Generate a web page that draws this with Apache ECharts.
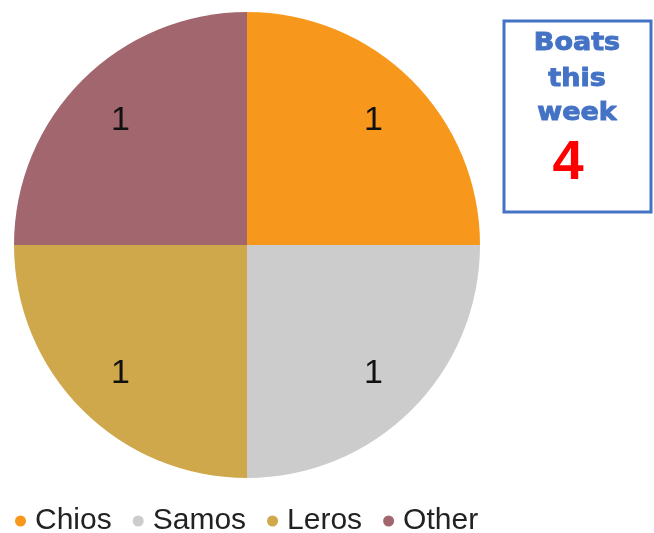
<!DOCTYPE html>
<html>
<head>
<meta charset="utf-8">
<script src="https://cdn.jsdelivr.net/npm/echarts@6/dist/echarts.min.js"></script>
<style>
  html, body { margin: 0; padding: 0; background: #fff; }
  #chart { width: 654px; height: 533px; }
</style>
</head>
<body>
<div id="chart"></div>
<script>
// data
const islands = ['Chios', 'Samos', 'Leros', 'Other']
const boats = [1, 1, 1, 1]
const colors = ['#F7981D', '#CCCCCC', '#CFA84C', '#A2666F']
const boxTitle = ['Boats', 'this', 'week']
const boxTotal = boats.reduce((a, b) => a + b, 0)

const chart = echarts.init(document.getElementById('chart'))

const pieData = islands.map((name, i) => ({
  name: name,
  value: boats[i],
  itemStyle: { color: colors[i] }
}))

const option = {
  animation: false,
  legend: {
    left: 10,
    top: 501,
    icon: 'circle',
    itemWidth: 11,
    itemHeight: 11,
    itemGap: 21,
    data: islands,
    textStyle: {
      fontFamily: 'Liberation Sans, Arial, sans-serif',
      fontSize: 30,
      color: '#222',
      padding: [0, 0, 0, 4]
    }
  },
  series: [
    {
      type: 'pie',
      center: [247, 245],
      radius: [0, 233],
      startAngle: 90,
      clockwise: true,
      label: { show: false },
      labelLine: { show: false },
      emphasis: { scale: false },
      data: pieData
    },
    {
      // transparent copy, only used to place the value labels further out
      type: 'pie',
      center: [247, 245],
      radius: [0, 352],
      startAngle: 90,
      clockwise: true,
      silent: true,
      itemStyle: { color: 'rgba(0,0,0,0)', borderWidth: 0 },
      label: {
        show: true,
        position: 'inside',
        formatter: '{c}',
        fontFamily: 'Liberation Sans, Arial, sans-serif',
        fontSize: 34,
        color: '#111',
        offset: [0, 2]
      },
      labelLine: { show: false },
      data: islands.map((name, i) => ({ name: name, value: boats[i] }))
    }
  ],
  graphic: [
    {
      type: 'rect',
      shape: { x: 504, y: 21, width: 147, height: 191 },
      style: { fill: '#fff', stroke: '#4472C4', lineWidth: 3 }
    },
    ...boxTitle.map((t, i) => ({
      type: 'text',
      x: 577,
      y: [43, 79, 113][i],
      scaleX: 1.08,
      style: {
        text: t,
        align: 'center',
        verticalAlign: 'middle',
        fontFamily: 'DejaVu Sans',
        fontWeight: 'bold',
        fontSize: 25,
        fill: '#4472C4',
        stroke: '#4a77c8',
        lineWidth: 1
      }
    })),
    {
      type: 'text',
      x: 568,
      y: 164,
      style: {
        text: String(boxTotal),
        align: 'center',
        verticalAlign: 'middle',
        fontFamily: 'Liberation Sans, Arial, sans-serif',
        fontWeight: 'bold',
        fontSize: 56,
        fill: '#FF0000'
      }
    }
  ]
}

chart.setOption(option)
</script>
</body>
</html>
